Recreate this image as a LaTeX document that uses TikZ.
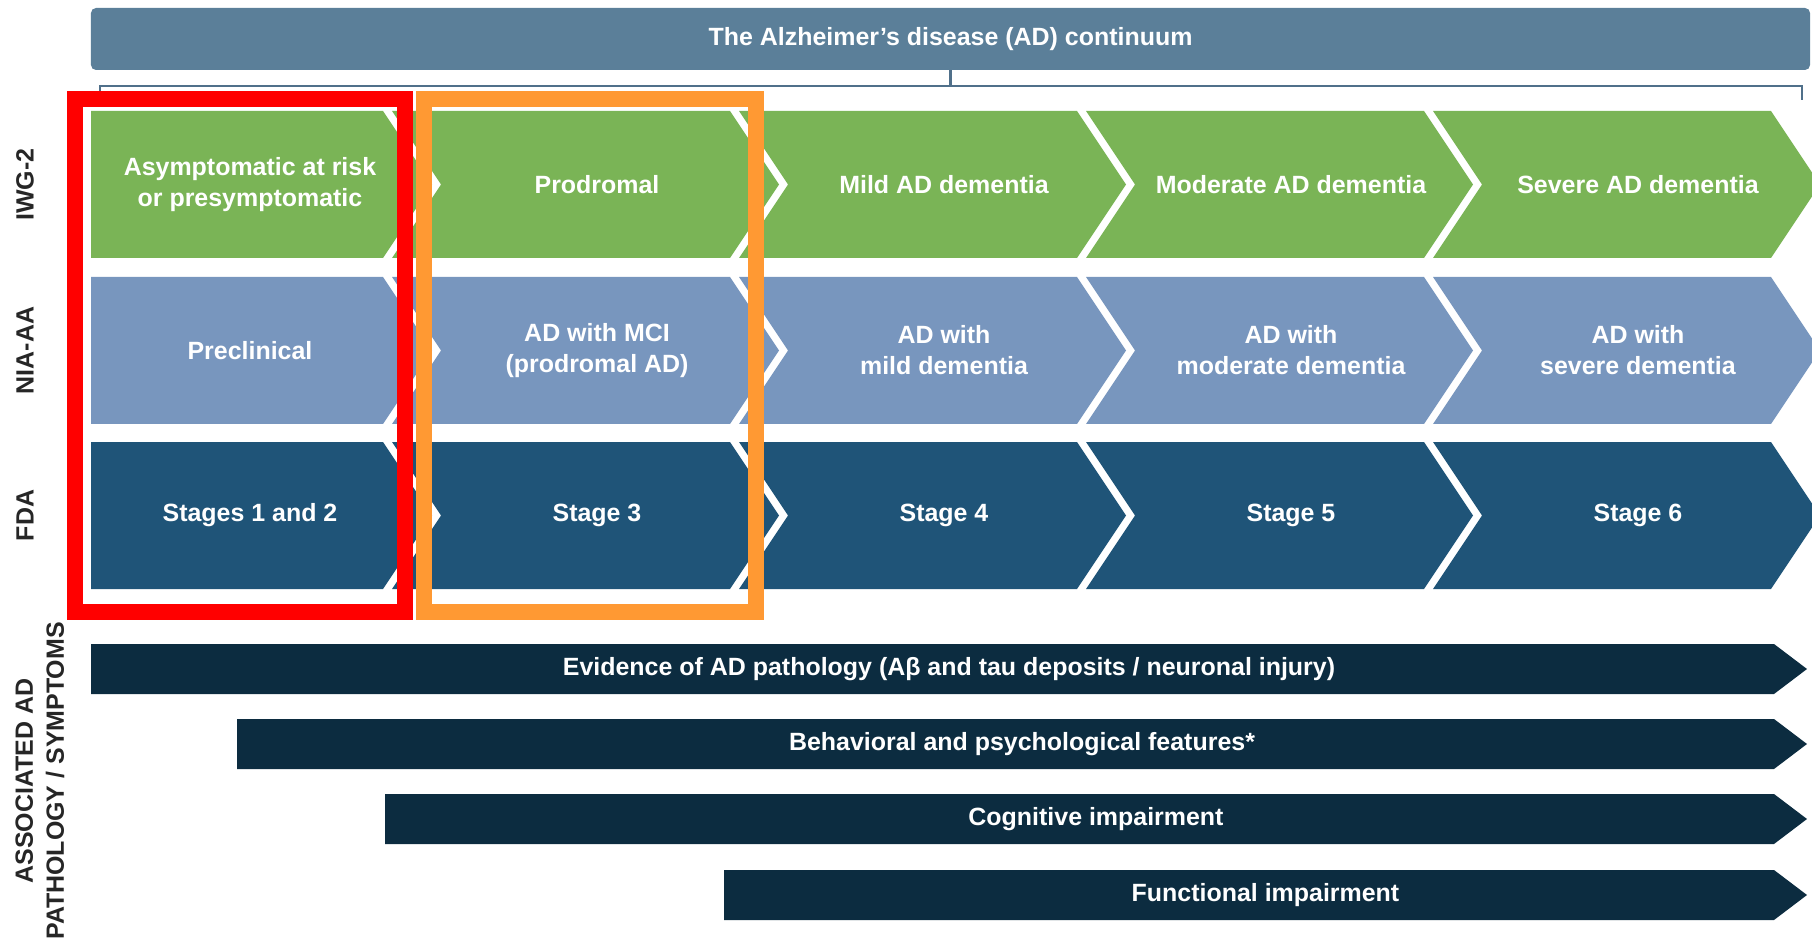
\documentclass[tikz,border=0pt]{standalone}
\usepackage{fontspec}
\setmainfont{Liberation Sans}
\definecolor{ADhead}{RGB}{91,127,153}
\definecolor{ADbracket}{RGB}{80,112,138}
\definecolor{ADgreen}{RGB}{122,180,86}
\definecolor{ADlight}{RGB}{120,150,190}
\definecolor{ADmid}{RGB}{31,84,120}
\definecolor{ADnavy}{RGB}{12,44,64}
\definecolor{ADred}{RGB}{255,0,0}
\definecolor{ADorange}{RGB}{255,153,51}
\tikzset{
  stagetxt/.style={text=white, font=\bfseries\fontsize{14.2}{17.6}\selectfont, align=center},
  rowlabel/.style={rotate=90, align=center, text=black!85, font=\bfseries\fontsize{14.2}{17.6}\selectfont},
}
\begin{document}
\begin{tikzpicture}[x=0.2mm, y=-0.2mm]
	\useasboundingbox (0,0) rectangle (1812,947);
	\node[stagetxt, fill=ADhead, rounded corners=1mm, minimum width=343.8mm, minimum height=12.4mm] (head) at (950.5,39) {The Alzheimer’s disease (AD) continuum};
	\path (head.south) ++(0,16) coordinate (brmid);
	\draw[ADbracket, line width=0.5mm] (head.south) -- (brmid);
	\draw[ADbracket, line width=0.5mm] (100,100) -- (100,86) -- (1802,86) -- (1802,100);

	% IWG-2
	\foreach \k/\txt in {1/{Asymptomatic at risk\\or presymptomatic}, 2/Prodromal, 3/Mild AD dementia, 4/Moderate AD dementia, 5/Severe AD dementia} {
		\pgfmathsetmacro\R{383+347*(\k-1)}
		\pgfmathsetmacro\L{\k==1 ? 91 : \R-338}
		\pgfmathsetmacro\n{\k==1 ? 0 : 49}
		\fill[ADgreen] (\L,111) -- (\R,111) -- (\R+49,184.5) -- (\R,258) -- (\L,258) -- (\L+\n,184.5) -- cycle;
		\node[stagetxt] (iwg\k) at (\R-133,184.5) {\txt};
	}
	% NIA-AA
	\foreach \k/\txt in {1/Preclinical, 2/{AD with MCI\\(prodromal AD)}, 3/{AD with\\mild dementia}, 4/{AD with\\moderate dementia}, 5/{AD with\\severe dementia}} {
		\pgfmathsetmacro\R{383+347*(\k-1)}
		\pgfmathsetmacro\L{\k==1 ? 91 : \R-338}
		\pgfmathsetmacro\n{\k==1 ? 0 : 49}
		\fill[ADlight] (\L,277) -- (\R,277) -- (\R+49,350.5) -- (\R,424) -- (\L,424) -- (\L+\n,350.5) -- cycle;
		\node[stagetxt] (nia\k) at (\R-133,350.5) {\txt};
	}
	% FDA
	\foreach \k/\txt in {1/Stages 1 and 2, 2/Stage 3, 3/Stage 4, 4/Stage 5, 5/Stage 6} {
		\pgfmathsetmacro\R{383+347*(\k-1)}
		\pgfmathsetmacro\L{\k==1 ? 91 : \R-338}
		\pgfmathsetmacro\n{\k==1 ? 0 : 49}
		\fill[ADmid] (\L,442) -- (\R,442) -- (\R+49,515.5) -- (\R,589) -- (\L,589) -- (\L+\n,515.5) -- cycle;
		\node[stagetxt] (fda\k) at (\R-133,515.5) {\txt};
	}

	\node[rowlabel] (lbliwg) at (25,184.5) {IWG-2};
	\node[rowlabel] (lblnia) at (25,350.5) {NIA-AA};
	\node[rowlabel] (lblfda) at (25,515.5) {FDA};
	\node[rowlabel] (lblsym) at (40,781) {ASSOCIATED AD\\PATHOLOGY / SYMPTOMS};

	% pathology / symptom bars
	\foreach \name/\L/\T/\txt in {evid/91/644/{Evidence of AD pathology (Aβ and tau deposits / neuronal injury)}, behav/237/719/{Behavioral and psychological features*}, cogn/385/794/{Cognitive impairment}, func/724/870/{Functional impairment}} {
		\fill[ADnavy] (\L,\T) -- (1774,\T) -- (1807,\T+25) -- (1774,\T+50) -- (\L,\T+50) -- cycle;
		\node[stagetxt] (\name) at ({(\L+1807)/2},\T+25) {\txt};
	}

	\draw[ADred, line width=3.2mm] (75,99) rectangle (405,612);
	\draw[ADorange, line width=3.2mm] (424,99) rectangle (756,612);
\end{tikzpicture}
\end{document}
